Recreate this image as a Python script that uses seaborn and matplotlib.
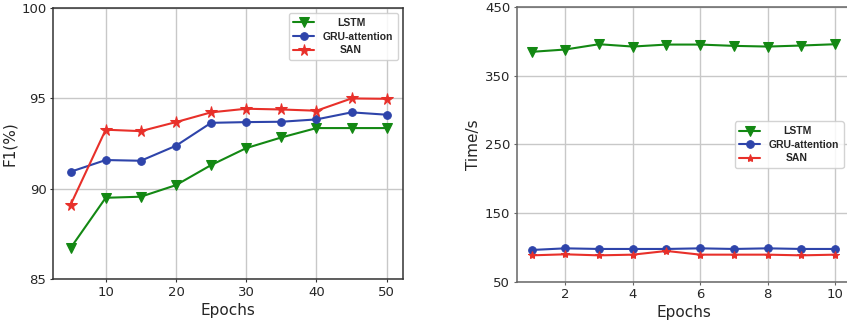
import matplotlib
matplotlib.use("Agg")
import matplotlib.pyplot as plt
import seaborn as sns
import pandas as pd

sns.set_style("ticks")
plt.rcParams['font.family'] = ['DejaVu Sans']

# Left chart: F1 vs epochs
epochs_f1 = [5, 10, 15, 20, 25, 30, 35, 40, 45, 50]
lstm_f1 = [86.72, 89.50, 89.56, 90.20, 91.31, 92.25, 92.84, 93.36, 93.36, 93.36]
gru_f1 = [90.94, 91.59, 91.55, 92.38, 93.65, 93.69, 93.71, 93.84, 94.23, 94.10]
san_f1 = [89.11, 93.27, 93.19, 93.69, 94.23, 94.43, 94.39, 94.32, 95.00, 94.98]

# Right chart: time vs epochs
epochs_t = [1, 2, 3, 4, 5, 6, 7, 8, 9, 10]
lstm_t = [384.5, 387.9, 395.6, 392.2, 395.1, 395.1, 393.2, 392.2, 393.7, 395.6]
gru_t = [96.1, 98.5, 97.6, 97.6, 97.6, 98.5, 97.6, 98.5, 97.6, 97.6]
san_t = [88.3, 89.8, 88.3, 89.3, 94.7, 89.3, 89.3, 89.3, 88.3, 89.3]

names = ["LSTM", "GRU-attention", "SAN"]
colors = ["#138813", "#2E44AA", "#E8302A"]
markers = ["v", "o", "*"]

fig = plt.figure(figsize=(8.47, 3.26), dpi=100)
ax1 = fig.add_axes([0.0626, 0.144, 0.413, 0.831])
ax2 = fig.add_axes([0.610, 0.136, 0.394, 0.843])


def center_legend(leg):
    fig.canvas.draw()
    r = fig.canvas.get_renderer()
    widths = [t.get_window_extent(r).width for t in leg.get_texts()]
    shift = max(widths)
    for t, w in zip(leg.get_texts(), widths):
        t.set_position(((shift - w) / 2 * 72 / fig.dpi, 0))


def draw(ax, x, series, msizes, yticks, ylim, xticks, ylabel, spine_color):
    for s, n, c, m, ms in zip(series, names, colors, markers, msizes):
        df = pd.DataFrame({"x": x, "y": s})
        sns.lineplot(data=df, x="x", y="y", ax=ax, color=c, marker=m,
                     markersize=ms, markeredgecolor=c, linewidth=1.5, label=n)
    ax.set_ylim(*ylim)
    ax.set_yticks(yticks)
    ax.set_xticks(xticks)
    ax.grid(True, color="#c8c8c8", linewidth=1.0)
    ax.set_axisbelow(True)
    ax.tick_params(labelsize=9.5, length=2.2, pad=2.5, color=spine_color)
    ax.set_xlabel("Epochs", fontsize=11, labelpad=3)
    ax.set_ylabel(ylabel, fontsize=11, labelpad=3)
    for sp in ax.spines.values():
        sp.set_visible(True)
        sp.set_color(spine_color)
        sp.set_linewidth(1.1)


draw(ax1, epochs_f1, [lstm_f1, gru_f1, san_f1], [6.5, 5.5, 8.5],
     [85, 90, 95, 100], (85, 100), [10, 20, 30, 40, 50], "F1(%)", "#333333")
ax1.set_xlim(2.5, 52.3)
draw(ax2, epochs_t, [lstm_t, gru_t, san_t], [6.5, 5.5, 6],
     [50, 150, 250, 350, 450], (50, 450), [2, 4, 6, 8, 10], "Time/s", "#666666")
ax2.set_xlim(0.56, 10.45)

leg_kw = dict(prop={"family": "Liberation Sans", "weight": "bold", "size": 7.5},
              frameon=True, fancybox=True, framealpha=0.85, edgecolor="#cccccc",
              handlelength=2.0, borderpad=0.45, labelspacing=0.35, handletextpad=0.8)
leg1 = ax1.legend(loc="upper right", bbox_to_anchor=(1.0, 1.0), **leg_kw)
leg2 = ax2.legend(loc="center right", bbox_to_anchor=(0.995, 0.498), **leg_kw)
center_legend(leg1)
center_legend(leg2)

fig.savefig("out.png", dpi=100)
